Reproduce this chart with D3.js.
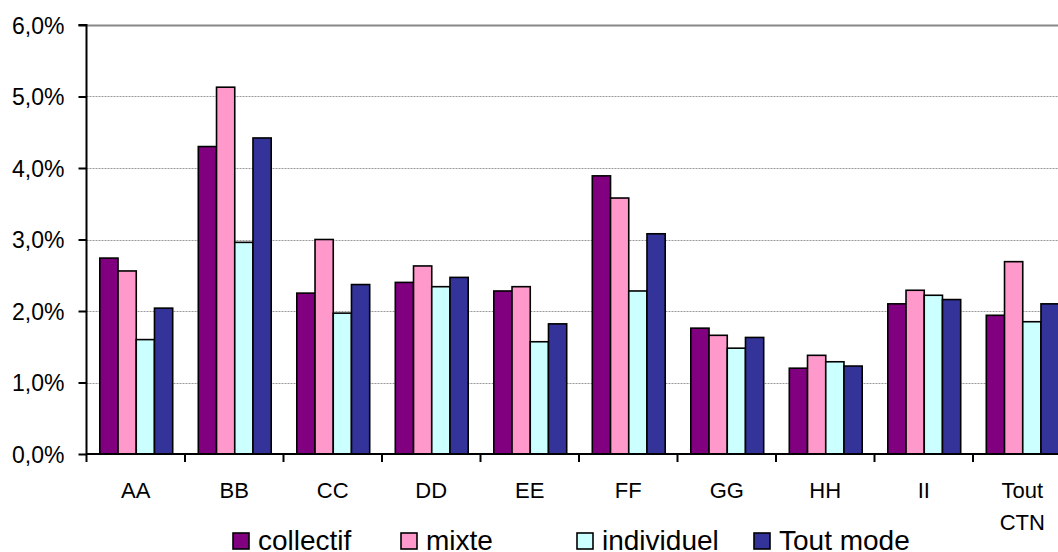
<!DOCTYPE html>
<html><head><meta charset="utf-8">
<script src="https://cdn.jsdelivr.net/npm/d3@7"></script>
<style>
html,body{margin:0;padding:0;background:#fff;}
svg{display:block;font-family:Arial,"Liberation Sans",sans-serif;}
</style></head>
<body>
<svg id="c" width="1058" height="552"></svg>
<script>
const categories = ["AA","BB","CC","DD","EE","FF","GG","HH","II","Tout CTN"];
const seriesNames = ["collectif","mixte","individuel","Tout mode"];
const seriesColors = ["#800080","#FF99CC","#CCFFFF","#333399"];
const collectif  = [2.74,4.30,2.25,2.40,2.28,3.89,1.76,1.20,2.10,1.94];
const mixte      = [2.56,5.13,3.00,2.63,2.34,3.58,1.66,1.38,2.29,2.69];
const individuel = [1.60,2.96,1.97,2.34,1.57,2.28,1.48,1.29,2.22,1.85];
const toutMode   = [2.04,4.42,2.37,2.47,1.82,3.08,1.63,1.23,2.16,2.10];
const yTicks = [0,1,2,3,4,5,6];
const yTickLabels = ["0,0%","1,0%","2,0%","3,0%","4,0%","5,0%","6,0%"];

const seriesValues = [collectif, mixte, individuel, toutMode];
const svg = d3.select("#c");

const pLeft = 86.5, pRight = 1071.5, pTop = 25, pBottom = 454;
const y = d3.scaleLinear().domain([0,6]).range([pBottom, pTop]);
const x0 = d3.scaleBand().domain(categories).range([pLeft, pRight]).padding(0);
const x1 = d3.scaleBand().domain(seriesNames).range([13.3, x0.bandwidth()-12.3]).padding(0);

// gridlines
svg.append("g").selectAll("line").data(yTicks.filter(d=>d>0)).join("line")
  .attr("x1", pLeft).attr("x2", 1058)
  .attr("y1", d=>Math.round(y(d))+0.5).attr("y2", d=>Math.round(y(d))+0.5)
  .attr("stroke", d=> d===6 ? "#888" : "#999")
  .attr("stroke-width", d=> d===6 ? 2 : 1)
  .attr("stroke-dasharray", d=> d===6 ? null : "2,1");

// bars
const data = [];
categories.forEach((c,i)=>seriesNames.forEach((s,j)=>data.push({c, s, j, v: seriesValues[j][i]})));
svg.append("g").selectAll("rect").data(data).join("rect")
  .attr("x", d=>x0(d.c)+x1(d.s))
  .attr("y", d=>y(d.v))
  .attr("width", x1.bandwidth())
  .attr("height", d=>y(0)-y(d.v))
  .attr("fill", d=>seriesColors[d.j])
  .attr("stroke", "#000").attr("stroke-width", 1.6);

// y axis
const yAxis = d3.axisLeft(y).tickValues(yTicks).tickFormat((d,i)=>yTickLabels[i]).tickSize(8).tickPadding(14);
const gy = svg.append("g").attr("transform", `translate(${pLeft},0)`).call(yAxis);
gy.attr("font-size", null).attr("font-family", null);
gy.select(".domain").attr("stroke","#000").attr("stroke-width",2).attr("d", `M-8,${pTop}H0V${pBottom}`);
gy.selectAll(".tick line").attr("stroke","#000").attr("stroke-width",2);
gy.selectAll(".tick text").attr("font-size", "23px").attr("fill","#000").attr("dy","0.36em");

// x axis
const gx = svg.append("g").attr("transform", `translate(0,${pBottom})`);
gx.append("line").attr("x1", pLeft).attr("x2", 1058).attr("y1",0).attr("y2",0).attr("stroke","#000").attr("stroke-width",2);
const boundaries = categories.map(c=>x0(c));
gx.selectAll("line.tk").data(boundaries).join("line").attr("class","tk")
  .attr("x1", d=>d).attr("x2", d=>d).attr("y1",0).attr("y2",8)
  .attr("stroke","#000").attr("stroke-width",2);
const lbl = gx.selectAll("text").data(categories).join("text")
  .attr("x", d=>x0(d)+x0.bandwidth()/2)
  .attr("text-anchor","middle").attr("font-size","22px").attr("fill","#000");
lbl.each(function(d){
  const words = d.split(" ");
  const t = d3.select(this);
  words.forEach((w,k)=>t.append("tspan").attr("x", x0(d)+x0.bandwidth()/2).attr("y", 44 + k*32).text(w));
});

// legend
const legendX = [233, 401, 577, 754];
const lg = svg.append("g").selectAll("g").data(seriesNames).join("g")
  .attr("transform", (d,i)=>`translate(${legendX[i]},533)`);
lg.append("rect").attr("width",16).attr("height",16).attr("fill",(d,i)=>seriesColors[i]).attr("stroke","#000").attr("stroke-width",1.6);
lg.append("text").attr("x",25).attr("y",17).attr("font-size","28px").attr("fill","#000").text(d=>d);
</script>
</body></html>
